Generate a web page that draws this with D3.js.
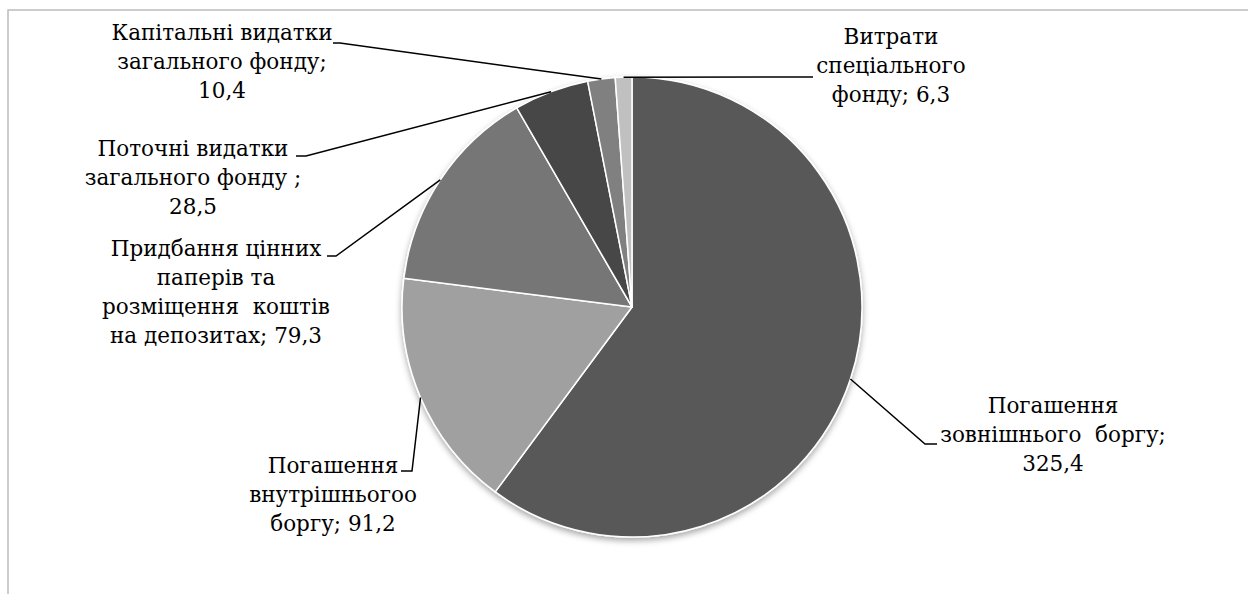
<html>
<head>
    <meta charset="utf-8">
    <title>Видатки</title>
    <style>
        body { margin: 0; background: #fff; }
    </style>
</head>
<body>
<div id="viz"></div>
<script src="https://d3js.org/d3.v7.min.js"></script>
<script>
    // slice order: clockwise from 12 o'clock
    var values = [325.4, 91.2, 79.3, 28.5, 10.4, 6.3];
    var labels = [
        ["Погашення", "зовнішнього  боргу;", "325,4"],
        ["Погашення", "внутрішньогоо", "боргу; 91,2"],
        ["Придбання цінних", "паперів та", "розміщення  коштів", "на депозитах; 79,3"],
        ["Поточні видатки", "загального фонду ;", "28,5"],
        ["Капітальні видатки", "загального фонду;", "10,4"],
        ["Витрати", "спеціального", "фонду; 6,3"]
    ];
    var colors = ["#595959", "#a0a0a0", "#767676", "#474747", "#808080", "#c0c0c0"];

    // label layout: text centre x, first baseline y, leader points (from label to slice)
    var layout = [
        { x: 1053, y: 413, leader: [[937, 444], [925, 444]] },
        { x: 333, y: 473, leader: [[401, 471], [412, 471]] },
        { x: 216, y: 256, leader: [[327, 256], [336, 256]] },
        { x: 193, y: 156, leader: [[296, 156], [306, 156]] },
        { x: 222, y: 40, leader: [[333, 43], [340, 43]] },
        { x: 891, y: 44, leader: [[813, 77]] }
    ];

    var width = 1248, height = 594;
    var cx = 632, cy = 307, r = 230;
    var lineH = 29;
    var font = "'DejaVu Serif', serif";

    var svg = d3.select("#viz").append("svg")
        .attr("width", width)
        .attr("height", height);

    var defs = svg.append("defs");
    var f = defs.append("filter").attr("id", "shadow")
        .attr("x", "-10%").attr("y", "-10%").attr("width", "120%").attr("height", "125%");
    f.append("feDropShadow")
        .attr("dx", 0).attr("dy", 3).attr("stdDeviation", 3)
        .attr("flood-color", "#000").attr("flood-opacity", 0.35);

    // frame
    svg.append("rect")
        .attr("x", 8).attr("y", 10)
        .attr("width", width + 20).attr("height", height + 20)
        .attr("fill", "none").attr("stroke", "#bcbcbc").attr("stroke-width", 1.5);

    var pie = d3.pie().sort(null).value(function (d) { return d; });
    var arcs = pie(values);

    var arc = d3.arc().innerRadius(0).outerRadius(r);
    var edge = d3.arc().innerRadius(r).outerRadius(r);

    var g = svg.append("g").attr("transform", "translate(" + cx + "," + cy + ")");

    g.append("g").attr("filter", "url(#shadow)")
        .selectAll("path")
        .data(arcs)
        .enter()
        .append("path")
        .attr("d", arc)
        .attr("fill", function (d, i) { return colors[i]; })
        .attr("stroke", "#fff")
        .attr("stroke-width", 1.5)
        .attr("stroke-linejoin", "round");

    // leader lines
    var line = d3.line();
    svg.selectAll(".leader")
        .data(arcs)
        .enter()
        .append("path")
        .attr("class", "leader")
        .attr("d", function (d, i) {
            var p = edge.centroid(d);
            var pts = layout[i].leader.slice();
            pts.push([cx + p[0], cy + p[1]]);
            return line(pts);
        })
        .attr("fill", "none")
        .attr("stroke", "#000")
        .attr("stroke-width", 1.5);

    // labels
    var lab = svg.selectAll(".lab")
        .data(labels)
        .enter()
        .append("text")
        .attr("class", "lab")
        .attr("text-anchor", "middle")
        .attr("font-family", font)
        .attr("font-size", 21.5)
        .attr("fill", "#000")
        .attr("x", function (d, i) { return layout[i].x; })
        .attr("y", function (d, i) { return layout[i].y; });

    lab.selectAll("tspan")
        .data(function (d, i) { return d.map(function (t) { return { t: t, i: i }; }); })
        .enter()
        .append("tspan")
        .attr("x", function (d) { return layout[d.i].x; })
        .attr("dy", function (d, j) { return j === 0 ? 0 : lineH; })
        .style("white-space", "pre")
        .text(function (d) { return d.t; });
</script>
</body>
</html>
